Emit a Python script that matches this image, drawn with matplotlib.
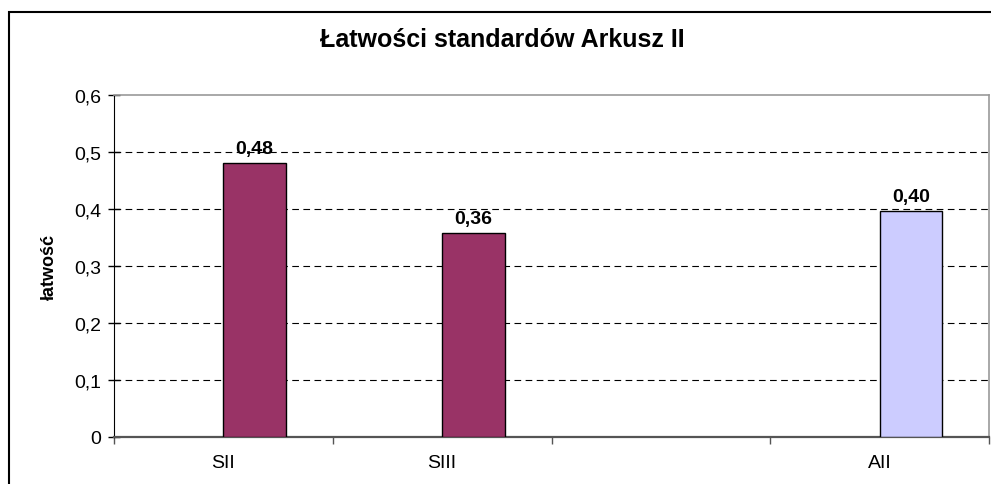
import matplotlib
matplotlib.use("Agg")
import matplotlib.pyplot as plt
from matplotlib.font_manager import fontManager
from matplotlib.patches import Rectangle

categories = ["SII", "SIII", "", "AII"]
values = [0.48, 0.358, None, 0.396]
bar_colors = ["#993366", "#993366", None, "#CCCCFF"]
title = "Łatwości standardów Arkusz II"
ylabel = "łatwość"
yticks = [0, 0.1, 0.2, 0.3, 0.4, 0.5, 0.6]
ytick_labels = ["0", "0,1", "0,2", "0,3", "0,4", "0,5", "0,6"]

names = {f.name for f in fontManager.ttflist}
narrow = "Liberation Sans Narrow" if "Liberation Sans Narrow" in names else "Liberation Sans"
plt.rcParams["font.family"] = ["Liberation Sans", "DejaVu Sans"]

W, H = 991, 485
fig = plt.figure(figsize=(W / 100, H / 100), dpi=100)
ax = fig.add_axes([114 / W, 1 - 438 / H, (989 - 114) / W, (438 - 96) / H])

n = len(categories)
width = 1 / 3.5
for i, (v, c) in enumerate(zip(values, bar_colors)):
    if v is None:
        continue
    ax.bar(i + width / 2, v, width=width, color=c, edgecolor="black", linewidth=1.0, zorder=3)
    ax.text(i + width / 2, v + 0.011, f"{v:.2f}".replace(".", ","), ha="center", va="bottom",
            fontsize=14, fontweight="bold", zorder=4)

ax.set_xlim(-0.5, n - 0.5)
ax.set_ylim(0, 0.6)
ax.set_yticks(yticks)
ax.set_yticklabels(ytick_labels, fontsize=14)
ax.set_xticks(range(n))
ax.set_xticklabels(categories, fontsize=14, family=[narrow, "DejaVu Sans"])
ax.set_xticks([i - 0.5 for i in range(n + 1)], minor=True)
ax.tick_params(axis="x", which="major", length=0, pad=12)
ax.tick_params(axis="x", which="minor", length=5, direction="out", color="#555555", width=1)
ax.tick_params(axis="y", which="major", length=8, direction="inout", width=1, pad=5)

for y in yticks[1:-1]:
    ax.axhline(y, color="black", linestyle=(0, (6, 4)), linewidth=0.8, zorder=1)

ax.spines["left"].set_color("black")
ax.spines["bottom"].set_color("#555555")
ax.spines["bottom"].set_linewidth(1.6)
ax.spines["top"].set_color("#999999")
ax.spines["right"].set_color("#999999")
ax.spines["top"].set_linewidth(1.2)
ax.spines["right"].set_linewidth(1.2)

ax.set_ylabel(ylabel, family=[narrow, "DejaVu Sans"], fontweight="bold", fontsize=13, labelpad=12)

fig.text(502 / W, 1 - 40 / H, title, ha="center", va="center", fontsize=18, fontweight="bold")

fig.patches.append(Rectangle((8.5 / W, -0.1), 1.2, 1.1 - 12.5 / H, transform=fig.transFigure,
                             fill=False, edgecolor="black", linewidth=1.5))

fig.savefig("out.png", dpi=100)
